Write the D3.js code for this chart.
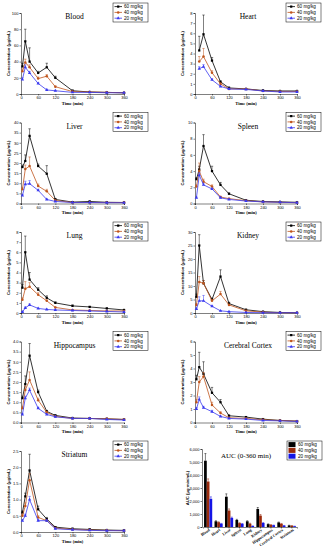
<!DOCTYPE html>
<html>
<head>
<meta charset="utf-8">
<script src="https://cdn.jsdelivr.net/npm/d3@7"></script>
<style>
  body { margin: 0; background: #fff; }
  text { font-family: "Liberation Sans", Arial, sans-serif; }
</style>
</head>
<body>
<script>
// sampling times (min) and doses
var times = [5, 15, 30, 60, 90, 120, 180, 240, 300, 360];
var timeTicks = [0, 60, 120, 180, 240, 300, 360];
var doses = ["60 mg/kg", "40 mg/kg", "20 mg/kg"];
var tissues = ["Blood", "Heart", "Liver", "Spleen", "Lung", "Kidney", "Hippocampus", "Cerebral Cortex", "Striatum"];

// concentrations (ug/mL), rows = 60, 40, 20 mg/kg
var blood = [[34, 65, 40, 26, 33, 20, 4, 2.5, 2, 1.5], [28, 39, 33, 19, 22, 9, 3, 2.5, 2, 1.5], [18, 33, 26, 13, 5, 4, 2, 2, 1.5, 1.5]];
var bloodErr = [[4, 15, 17, 2, 5, 2, 1, 0.5, 0.5, 0.5], [3, 4, 3, 2, 2, 1, 0.5, 0.5, 0.5, 0.3], [2, 3, 2, 1, 1, 0.5, 0.3, 0.3, 0.3, 0.3]];
var heart = [[null, 4.3, 5.9, 3.3, 1.2, 0.6, 0.5, 0.35, 0.3, 0.3], [null, 3.2, 3.7, 2.1, 1.0, 0.5, 0.5, 0.3, 0.25, 0.25], [null, 2.5, 2.7, 1.4, 0.75, 0.5, 0.45, 0.3, 0.2, 0.2]];
var heartErr = [[null, 1.4, 1.9, 0.3, 0.1, 0.1, 0.05, 0.05, 0.05, 0.05], [null, 0.5, 0.8, 0.2, 0.1, 0.05, 0.05, 0.05, 0.05, 0.05], [null, 0.2, 0.2, 0.1, 0.05, 0.05, 0.05, 0.05, 0.05, 0.05]];
var liver = [[18, 21, 33.4, 18.5, 14.7, 2, 0.7, 1, 0.6, 0.5], [7, 17, 18.5, 8.6, 6, 1.5, 0.5, 0.5, 0.5, 0.5], [4, 9.5, 9.8, 6.5, 2, 1, 0.5, 0.5, 0.4, 0.4]];
var liverErr = [[1, 3, 3.5, 1, 4, 0.5, 0.2, 0.2, 0.2, 0.2], [1, 2, 4.5, 1, 1, 0.3, 0.2, 0.2, 0.1, 0.1], [0.5, 1.5, 1.5, 0.5, 0.3, 0.2, 0.1, 0.1, 0.1, 0.1]];
var spleen = [[3.0, 4.2, 7.1, 4.0, 2.3, 1.2, 0.4, 0.25, 0.2, 0.15], [2.1, 4.0, 2.7, 2.1, 0.8, 0.6, 0.35, 0.2, 0.15, 0.1], [0.7, 3.5, 2.3, 1.8, 0.7, 0.5, 0.3, 0.2, 0.15, 0.1]];
var spleenErr = [[0.2, 0.4, 1.4, 0.6, 0.3, 0.1, 0.05, 0.05, 0.05, 0.05], [0.2, 1.0, 0.3, 0.2, 0.1, 0.05, 0.05, 0.05, 0.05, 0.05], [0.1, 0.3, 0.2, 0.1, 0.1, 0.05, 0.05, 0.05, 0.05, 0.05]];
var lung = [[2.5, 6.0, 3.3, 2.3, 1.5, 1.0, 0.7, 0.6, 0.45, 0.3], [1.3, 2.4, 2.6, 1.8, 1.2, 0.55, 0.3, 0.25, 0.2, 0.2], [0.1, 0.5, 0.8, 0.45, 0.35, 0.3, 0.25, 0.2, 0.15, 0.1]];
var lungErr = [[0.3, 1.6, 0.7, 0.2, 0.2, 0.1, 0.1, 0.05, 0.05, 0.05], [0.2, 0.7, 0.4, 0.2, 0.1, 0.05, 0.05, 0.05, 0.05, 0.05], [0.05, 0.1, 0.1, 0.05, 0.05, 0.05, 0.05, 0.05, 0.05, 0.05]];
var kidney = [[6, 25, 11, 5, 13.5, 3.5, 1.2, 0.5, 0.2, 0.1], [3, 11.5, 11, 4.5, 7, 3, 0.8, 0.3, 0.1, 0.1], [1.5, 4.5, 4.5, 2.5, 0.8, 0.5, 0.2, 0.1, 0.1, 0.1]];
var kidneyErr = [[1, 4, 1, 0.5, 2.5, 0.5, 0.2, 0.1, 0.05, 0.05], [0.5, 2, 1, 0.5, 1, 0.3, 0.1, 0.1, 0.05, 0.05], [0.3, 1.5, 2, 0.3, 0.1, 0.1, 0.05, 0.05, 0.05, 0.05]];
var hippocampus = [[1.2, 1.9, 3.3, 1.5, 0.55, 0.35, 0.22, 0.2, 0.18, 0.15], [0.7, 1.6, 2.1, 1.1, 0.5, 0.3, 0.2, 0.2, 0.18, 0.15], [0.4, 1.2, 1.6, 0.7, 0.4, 0.28, 0.2, 0.2, 0.15, 0.12]];
var hippocampusErr = [[0.1, 0.4, 0.6, 0.1, 0.05, 0.03, 0.03, 0.03, 0.03, 0.03], [0.1, 0.2, 0.4, 0.1, 0.05, 0.03, 0.03, 0.03, 0.03, 0.03], [0.05, 0.1, 0.1, 0.05, 0.03, 0.03, 0.03, 0.03, 0.03, 0.03]];
var cortex = [[3.2, 4.1, 3.6, 2.2, 1.5, 0.5, 0.4, 0.25, 0.15, 0.1], [1.5, 3.0, 3.4, 1.3, 0.7, 0.35, 0.3, 0.2, 0.15, 0.1], [1.0, 1.7, 1.1, 0.8, 0.45, 0.3, 0.25, 0.15, 0.12, 0.08]];
var cortexErr = [[0.3, 1.1, 0.9, 0.4, 0.2, 0.05, 0.05, 0.05, 0.03, 0.03], [0.2, 0.4, 0.3, 0.2, 0.1, 0.05, 0.05, 0.03, 0.03, 0.03], [0.1, 0.2, 0.1, 0.1, 0.05, 0.03, 0.03, 0.03, 0.03, 0.03]];
var striatum = [[0.6, 1.1, 1.9, 0.7, 0.4, 0.15, 0.1, 0.08, 0.06, 0.05], [0.5, 0.8, 1.6, 0.45, 0.35, 0.12, 0.08, 0.06, 0.05, 0.04], [0.35, 0.5, 1.0, 0.35, 0.35, 0.1, 0.07, 0.05, 0.04, 0.04]];
var striatumErr = [[0.05, 0.1, 0.5, 0.1, 0.05, 0.02, 0.02, 0.02, 0.02, 0.02], [0.05, 0.1, 0.2, 0.05, 0.03, 0.02, 0.02, 0.02, 0.02, 0.02], [0.03, 0.05, 0.1, 0.03, 0.03, 0.02, 0.02, 0.02, 0.02, 0.02]];

// y-axis ranges and tick steps per tissue
var yMax = [100, 8, 40, 10, 8, 30, 4, 6, 2.5];
var yStep = [20, 1, 5, 2, 1, 5, 0.5, 1, 0.5];

// AUC (0-360 min), ug*min/mL
var auc60 = [5100, 440, 2330, 540, 440, 1390, 220, 350, 120];
var auc40 = [3500, 370, 1270, 300, 260, 880, 170, 250, 100];
var auc20 = [2170, 260, 700, 250, 80, 310, 140, 110, 60];
var auc60Err = [550, 40, 220, 50, 40, 110, 20, 30, 15];
var auc40Err = [200, 30, 120, 30, 30, 80, 15, 25, 10];
var auc20Err = [150, 20, 60, 20, 10, 30, 10, 10, 5];
var aucTicks = [0, 1000, 2000, 3000, 4000, 5000, 6000];

var series = [blood, heart, liver, spleen, lung, kidney, hippocampus, cortex, striatum];
var seriesErr = [bloodErr, heartErr, liverErr, spleenErr, lungErr, kidneyErr, hippocampusErr, cortexErr, striatumErr];

var lineColors = ["#000000", "#c0561e", "#3a3af0"];
var barColors = ["#000000", "#9a2a0c", "#1414e6"];
var markers = [d3.symbolSquare, d3.symbolCircle, d3.symbolTriangle];

var svg = d3.select("body").append("svg")
  .attr("width", 327)
  .attr("height", 550);

function panelBox(i) {
  var col = i % 2, row = Math.floor(i / 2);
  var x0 = col ? 195 : 21, x1 = col ? 297 : 124;
  var top = 13 + row * 109.5;
  return { x0: x0, x1: x1, top: top, bottom: top + 81 };
}

function drawLegend(g, x, y, filled) {
  var lg = g.append("g").attr("transform", `translate(${x},${y})`);
  lg.append("rect").attr("width", 35).attr("height", 19)
    .attr("fill", "#fff").attr("stroke", "#000").attr("stroke-width", 0.5);
  doses.forEach(function (d, k) {
    var cy = 3.6 + k * 5.8;
    if (filled) {
      lg.append("rect").attr("x", 1.5).attr("y", cy - 2.5).attr("width", 7).attr("height", 5)
        .attr("fill", barColors[k]);
    } else {
      lg.append("line").attr("x1", 1.5).attr("x2", 9).attr("y1", cy).attr("y2", cy)
        .attr("stroke", lineColors[k]).attr("stroke-width", 0.8);
      lg.append("path").attr("d", d3.symbol(markers[k], 5)())
        .attr("transform", `translate(5.2,${cy})`).attr("fill", lineColors[k]);
    }
    lg.append("text").attr("x", 11).attr("y", cy + 1.6)
      .attr("font-size", 4.6).text(d);
  });
}

// concentration-time panels
tissues.forEach(function (name, i) {
  var b = panelBox(i);
  var g = svg.append("g");
  var x = d3.scaleLinear().domain([0, 360]).range([b.x0, b.x1]);
  var y = d3.scaleLinear().domain([0, yMax[i]]).range([b.bottom, b.top]);
  var fmt = yStep[i] < 1 ? d3.format(".1f") : d3.format("d");

  var xAxis = g.append("g").attr("transform", `translate(0,${b.bottom})`)
    .call(d3.axisBottom(x).tickValues(timeTicks).tickSize(1.5).tickPadding(1));
  var yAxis = g.append("g").attr("transform", `translate(${b.x0},0)`)
    .call(d3.axisLeft(y).tickValues(d3.range(0, yMax[i] + yStep[i] / 2, yStep[i]))
      .tickFormat(fmt).tickSize(1.5).tickPadding(1));
  [xAxis, yAxis].forEach(function (a) {
    a.selectAll("text").attr("font-size", 4).attr("font-family", "Liberation Sans, Arial, sans-serif");
    a.selectAll("line, path").attr("stroke-width", 0.5);
  });

  series[i].forEach(function (vals, k) {
    var pts = times.map((t, j) => ({ t: t, v: vals[j], e: seriesErr[i][k][j] }))
      .filter(p => p.v != null);
    // error bars (upper only)
    pts.forEach(function (p) {
      var yt = y(p.v + p.e);
      g.append("line").attr("x1", x(p.t)).attr("x2", x(p.t))
        .attr("y1", y(p.v)).attr("y2", yt)
        .attr("stroke", lineColors[k]).attr("stroke-width", 0.5);
      g.append("line").attr("x1", x(p.t) - 1.2).attr("x2", x(p.t) + 1.2)
        .attr("y1", yt).attr("y2", yt)
        .attr("stroke", lineColors[k]).attr("stroke-width", 0.5);
    });
    g.append("path").datum(pts)
      .attr("fill", "none").attr("stroke", lineColors[k]).attr("stroke-width", 0.8)
      .attr("d", d3.line().x(p => x(p.t)).y(p => y(p.v)));
    g.selectAll(null).data(pts).enter().append("path")
      .attr("d", d3.symbol(markers[k], 5)())
      .attr("transform", p => `translate(${x(p.t)},${y(p.v)})`)
      .attr("fill", lineColors[k]);
  });

  g.append("text").attr("x", (b.x0 + b.x1) / 2 + 2).attr("y", b.top + 6)
    .attr("text-anchor", "middle").attr("font-size", 7.5)
    .style("font-family", "Liberation Serif, Times New Roman, serif").text(name);
  g.append("text").attr("x", (b.x0 + b.x1) / 2).attr("y", b.bottom + 10.5)
    .attr("text-anchor", "middle").attr("font-size", 4.5).attr("font-weight", "bold")
    .style("font-family", "Liberation Serif, Times New Roman, serif").text("Time (min)");
  g.append("text")
    .attr("transform", `translate(${b.x0 - 11.5},${(b.top + b.bottom) / 2}) rotate(-90)`)
    .attr("text-anchor", "middle").attr("font-size", 4.2).attr("font-weight", "bold")
    .text("Concentration (\u03bcg/mL)");

  drawLegend(g, b.x1 - 11, b.top - 10, false);
});

// AUC bar chart
var ab = { x0: 202, x1: 297, top: 449, bottom: 527 };
var ga = svg.append("g");
var xa = d3.scaleBand().domain(tissues).range([ab.x0 + 1, ab.x1]).paddingInner(0.22).paddingOuter(0.1);
var xi = d3.scaleBand().domain(doses).range([0, xa.bandwidth()]);
var ya = d3.scaleLinear().domain([0, 6000]).range([ab.bottom, ab.top]);
var aucVals = [auc60, auc40, auc20];
var aucErrs = [auc60Err, auc40Err, auc20Err];

aucVals.forEach(function (vals, k) {
  ga.selectAll(null).data(tissues).enter().append("rect")
    .attr("x", (d, j) => xa(d) + xi(doses[k]))
    .attr("y", (d, j) => ya(vals[j]))
    .attr("width", xi.bandwidth())
    .attr("height", (d, j) => ab.bottom - ya(vals[j]))
    .attr("fill", barColors[k]);
  tissues.forEach(function (d, j) {
    var cx = xa(d) + xi(doses[k]) + xi.bandwidth() / 2;
    var yt = ya(vals[j] + aucErrs[k][j]);
    ga.append("line").attr("x1", cx).attr("x2", cx).attr("y1", ya(vals[j])).attr("y2", yt)
      .attr("stroke", barColors[k]).attr("stroke-width", 0.5);
    ga.append("line").attr("x1", cx - 1).attr("x2", cx + 1).attr("y1", yt).attr("y2", yt)
      .attr("stroke", barColors[k]).attr("stroke-width", 0.5);
  });
});

var axA = ga.append("g").attr("transform", `translate(0,${ab.bottom})`)
  .call(d3.axisBottom(xa).tickSize(1.5).tickFormat(""));
var ayA = ga.append("g").attr("transform", `translate(${ab.x0},0)`)
  .call(d3.axisLeft(ya).tickValues(aucTicks).tickSize(1.5).tickPadding(1));
[axA, ayA].forEach(function (a) {
  a.selectAll("text").attr("font-size", 4).attr("font-family", "Liberation Sans, Arial, sans-serif");
  a.selectAll("line, path").attr("stroke-width", 0.5);
});

ga.selectAll(null).data(tissues).enter().append("text")
  .attr("transform", d => `translate(${xa(d) + xa.bandwidth() / 2 + 2},${ab.bottom + 3.5}) rotate(-35)`)
  .attr("text-anchor", "end").attr("font-size", 4).attr("font-weight", "bold")
  .style("font-family", "Liberation Serif, Times New Roman, serif")
  .text(d => d);

ga.append("text").attr("x", 246).attr("y", ab.top + 9)
  .attr("text-anchor", "middle").attr("font-size", 7)
  .style("font-family", "Liberation Serif, Times New Roman, serif").text("AUC (0-360 min)");
ga.append("text")
  .attr("transform", `translate(${ab.x0 - 13},${(ab.top + ab.bottom) / 2}) rotate(-90)`)
  .attr("text-anchor", "middle").attr("font-size", 4.2).attr("font-weight", "bold")
  .text("AUC (\u03bcg\u00b7min/mL)");

drawLegend(ga, 287, 441, true);
</script>
</body>
</html>
